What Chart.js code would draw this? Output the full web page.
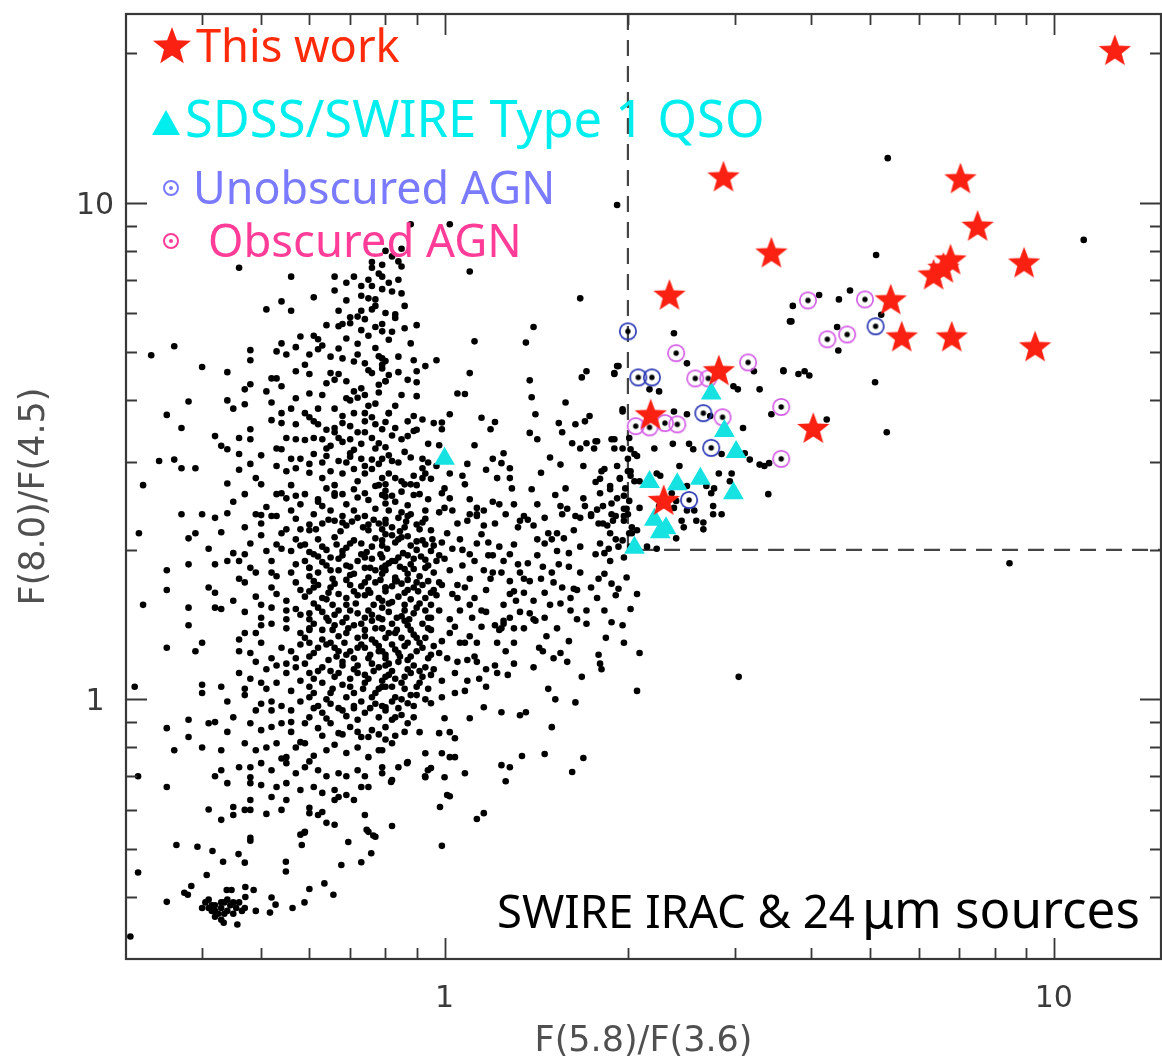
<!DOCTYPE html>
<html lang="en">
<head>
<meta charset="utf-8">
<title>F(8.0)/F(4.5) vs F(5.8)/F(3.6)</title>
<script src="https://cdn.jsdelivr.net/npm/chart.js@4.4.1/dist/chart.umd.min.js"></script>
<style>
  html, body { margin: 0; padding: 0; background: #fff; overflow: hidden; }
  #irac { display: block; }
</style>
</head>
<body>
<canvas id="irac" width="1175" height="1058"></canvas>
<script>
// axis ranges and labelled ticks (log-log)
const xRange = [0.3, 15];
const yRange = [0.3, 24];
const xTickLabels = [1, 10];
const yTickLabels = [1, 10];
const agnCut = 2; // F(5.8)/F(3.6) > 2 and F(8.0)/F(4.5) > 2

// This work
const thisWorkX = [12.6, 2.87, 7.03, 7.50, 3.44, 8.94, 6.77, 6.59, 6.35, 2.34, 5.40, 5.63, 6.80, 9.32, 2.82, 2.18, 4.03, 2.29];
const thisWorkY = [20.3, 11.3, 11.2, 8.99, 7.94, 7.58, 7.69, 7.40, 7.17, 6.53, 6.39, 5.38, 5.38, 5.14, 4.60, 3.75, 3.52, 2.52];

// SDSS/SWIRE type 1 QSOs
const qsoX = [1.00, 2.74, 2.88, 3.01, 2.17, 2.41, 2.63, 2.98, 2.21, 2.31, 2.26, 2.05];
const qsoY = [3.05, 4.13, 3.47, 3.15, 2.74, 2.71, 2.78, 2.60, 2.30, 2.21, 2.17, 2.02];

// unobscured AGN
const unobscuredX = [2.00, 2.08, 2.19, 2.66, 2.74, 2.52, 5.10];
const unobscuredY = [5.51, 4.45, 4.45, 3.77, 3.21, 2.52, 5.64];

// obscured AGN
const obscuredX = [2.40, 3.15, 2.58, 2.71, 3.57, 2.06, 2.17, 2.30, 2.41, 2.86, 3.57, 3.95, 4.90, 4.25, 4.58];
const obscuredY = [4.98, 4.77, 4.43, 4.43, 3.88, 3.55, 3.53, 3.60, 3.58, 3.70, 3.05, 6.36, 6.39, 5.31, 5.43];

// SWIRE IRAC & 24um sources, "F(5.8)/F(3.6),F(8.0)/F(4.5)"
const swireSources = `
0.46,7.4 0.56,7.1 0.66,7.1 0.69,6.9 0.71,7.1 0.73,6.8 0.76,6.8 0.76,7.4 0.78,7.2 0.79,7.1 0.76,7.6
0.61,6.45 0.54,6.33 0.51,6.1 0.56,6.06 0.66,6.66 0.69,6.36 0.75,6.42 0.77,6.39 0.67,6.06 0.70,5.88 0.73,6.06 0.76,6.1 0.74,5.83
0.64,5.67 0.67,5.64 0.68,5.7 0.70,5.72 0.73,5.54 0.77,5.62 0.79,5.51 0.69,5.33 0.58,5.38 0.61,5.4 0.62,5.31 0.54,5.21 0.63,5.16
0.36,5.14 0.33,4.93 0.48,5.05 0.48,4.82 0.53,5.02 0.55,4.95 0.57,5.12 0.60,4.95 0.62,5.07 0.67,5.09 0.68,4.86 0.71,4.79 0.78,4.91 0.79,4.64
0.40,4.67 0.44,4.56 0.52,4.43 0.53,4.43 0.54,4.27 0.57,4.58 0.59,4.72 0.60,4.52 0.60,4.13 0.64,4.33 0.65,4.54 0.67,4.52 0.69,4.37 0.71,4.17 0.73,4.23 0.76,4.54 0.80,4.37
0.48,4.31 0.47,4.21 0.51,4.17 0.38,3.98 0.35,3.74 0.44,4.0 0.47,3.93 0.45,3.85 0.52,3.96 0.54,3.77 0.56,3.85 0.57,4.04 0.59,3.77 0.62,3.85 0.66,3.85 0.69,4.04 0.71,3.77 0.74,3.77 0.77,3.94 0.81,3.77
0.37,3.52 0.42,3.39 0.48,3.5 0.48,3.34 0.46,3.36 0.52,3.65 0.54,3.6 0.57,3.58 0.61,3.63 0.62,3.58 0.64,3.49 0.66,3.52 0.68,3.6 0.74,3.63 0.77,3.58
0.55,3.36 0.57,3.34 0.59,3.33 0.61,3.36 0.63,3.34 0.65,3.24 0.67,3.36 0.70,3.34 0.73,3.27 0.76,3.36 0.78,3.28
0.43,3.24 0.44,3.19 0.46,3.12 0.53,3.2 0.54,3.19 0.56,3.05 0.58,3.05 0.61,3.12 0.64,3.09 0.67,3.02 0.70,3.13 0.73,3.05 0.76,3.04 0.79,3.05
0.34,3.02 0.36,3.04 0.37,2.92 0.39,2.92 0.48,2.98 0.53,2.95 0.55,2.88 0.57,2.92 0.60,2.86 0.63,2.79 0.65,2.88 0.68,2.85 0.71,2.91 0.74,2.85 0.76,2.91 0.79,2.79
0.32,2.7 0.44,2.72 0.49,2.79 0.50,2.71 0.47,2.59 0.53,2.59 0.54,2.6 0.55,2.54 0.57,2.57 0.59,2.59 0.62,2.53 0.64,2.66 0.66,2.57 0.68,2.59 0.71,2.65 0.74,2.6 0.77,2.69 0.80,2.63
0.37,2.36 0.40,2.36 0.42,2.32 0.44,2.37 0.49,2.36 0.51,2.44 0.53,2.34 0.56,2.4 0.58,2.47 0.61,2.36 0.63,2.45 0.65,2.4 0.68,2.34 0.71,2.4 0.74,2.34 0.77,2.42 0.80,2.48
1.92,9.9 0.88,9.05 1.02,9.05 0.85,8.08 0.84,7.62 0.85,7.44 1.10,7.27 0.82,6.63 0.85,6.57 0.83,5.96 0.83,5.86 0.86,5.59 0.90,5.67
1.67,6.42 1.40,5.62 1.36,5.23 1.12,5.26 0.88,5.21 0.79,4.86 0.79,4.72 0.89,4.82 0.97,4.82 0.84,4.56 0.90,4.58 0.93,4.69 1.10,4.54
0.80,4.37 0.90,4.35 1.05,4.13 1.08,4.12 0.90,4.08 1.38,4.39 1.68,4.45 1.71,4.58 1.92,4.69 1.90,4.52 1.39,4.06 1.58,3.96
0.81,3.77 0.87,3.63 0.89,3.72 0.92,3.66 0.96,3.6 0.99,3.61 1.02,3.75 0.83,3.52 0.89,3.47 0.90,3.49 0.99,3.5 1.15,3.69 1.21,3.62 1.19,3.5
1.41,3.75 1.38,3.44 1.54,3.6 1.56,3.45 1.64,3.58 1.70,3.63 1.73,3.72 1.96,3.8
0.85,3.34 0.87,3.39 0.80,3.22 0.88,3.07 0.92,3.05 0.94,3.27 0.98,3.25 1.12,3.25 1.42,3.34 1.62,3.28 1.67,3.2 1.71,3.28 1.77,3.31 1.76,3.2 1.90,3.34 1.90,3.2 1.96,3.2 2.00,3.05 2.05,3.12
0.82,3.02 0.94,3.0 0.97,2.95 0.92,2.92 1.20,3.05 1.25,3.13 1.24,2.99 1.28,2.92 1.49,3.07 1.55,2.97 1.69,2.95 1.09,2.98 1.17,2.9
0.81,2.85 0.83,2.79 0.89,2.82 0.92,2.79 0.95,2.78 1.02,2.85 1.07,2.82 1.22,2.79 1.28,2.79 1.44,2.86 1.83,2.91 1.94,2.79 2.00,2.88 2.05,2.75
0.80,2.71 0.86,2.71 0.88,2.71 1.00,2.66 1.08,2.71 1.29,2.66 1.39,2.65 1.58,2.66 1.77,2.74 1.80,2.78 1.87,2.65 1.98,2.66
0.79,2.58 0.82,2.57 0.89,2.58 0.91,2.59 0.94,2.53 0.99,2.6 1.02,2.54 1.10,2.53 1.13,2.43 1.23,2.47 1.30,2.47 1.42,2.47 1.52,2.58 1.59,2.42 1.69,2.54 1.70,2.45 1.78,2.41 1.88,2.48 1.97,2.57 1.97,2.42
0.81,2.4 0.85,2.38 0.87,2.34 0.93,2.4 0.98,2.38 1.00,2.43 1.10,2.36 1.13,2.36 1.16,2.4 1.35,2.34 1.56,2.36 1.64,2.34 1.74,2.34 1.91,2.34 2.00,2.36
0.315,2.16 0.38,2.11 0.39,2.16 0.43,2.17 0.47,2.22 0.50,2.26 0.52,2.34 0.57,2.31 0.50,2.14 0.54,2.16 0.57,2.1 0.60,2.19 0.63,2.26 0.66,2.29 0.69,2.24 0.72,2.32 0.75,2.19 0.78,2.26 0.80,2.15
0.41,2.01 0.45,1.97 0.47,1.96 0.48,2.06 0.51,1.99 0.54,2.01 0.56,1.99 0.58,2.04 0.61,1.96 0.63,2.03 0.65,1.93 0.68,1.99 0.70,2.06 0.73,1.96 0.76,2.03 0.79,1.93
0.35,1.82 0.38,1.87 0.42,1.87 0.44,1.9 0.46,1.9 0.48,1.84 0.49,1.8 0.52,1.8 0.53,1.77 0.56,1.8 0.57,1.87 0.60,1.84 0.62,1.8 0.64,1.86 0.67,1.82 0.69,1.86 0.71,1.79 0.74,1.84 0.77,1.82 0.80,1.86
0.35,1.66 0.41,1.68 0.47,1.72 0.42,1.64 0.45,1.58 0.49,1.61 0.52,1.68 0.53,1.63 0.55,1.58 0.57,1.72 0.58,1.66 0.61,1.68 0.63,1.6 0.65,1.68 0.67,1.63 0.70,1.7 0.72,1.62 0.75,1.66 0.78,1.6 0.80,1.68
0.32,1.55 0.38,1.53 0.42,1.53 0.43,1.52 0.47,1.5 0.50,1.46 0.52,1.53 0.55,1.51 0.57,1.52 0.60,1.49 0.62,1.53 0.64,1.46 0.67,1.51 0.69,1.55 0.72,1.49 0.75,1.51 0.78,1.46
0.38,1.41 0.47,1.36 0.49,1.36 0.50,1.41 0.52,1.42 0.55,1.39 0.58,1.36 0.60,1.39 0.63,1.38 0.66,1.41 0.69,1.36 0.71,1.41 0.74,1.34 0.77,1.39 0.80,1.33
0.35,1.27 0.39,1.25 0.40,1.3 0.46,1.32 0.46,1.25 0.48,1.24 0.49,1.19 0.52,1.21 0.54,1.27 0.56,1.25 0.57,1.21 0.60,1.3 0.62,1.27 0.65,1.3 0.67,1.25 0.69,1.23 0.72,1.27 0.75,1.21 0.78,1.25 0.80,1.21
0.46,1.13 0.51,1.15 0.53,1.17 0.55,1.13 0.57,1.16 0.60,1.13 0.63,1.16 0.65,1.14 0.68,1.17 0.71,1.15 0.74,1.12 0.78,1.16 0.80,1.11
0.31,1.06 0.40,1.07 0.40,1.03 0.43,1.06 0.47,1.05 0.47,1.02 0.50,1.08 0.51,1.05 0.53,1.08 0.56,1.04 0.58,1.09 0.61,1.03 0.63,1.08 0.65,1.03 0.68,1.07 0.71,1.03 0.74,1.08 0.77,1.03 0.80,1.06
0.44,0.99 0.49,0.95 0.50,0.98 0.52,0.99 0.54,0.97 0.56,0.95 0.58,0.99 0.61,0.96 0.63,0.94 0.65,0.98 0.68,0.95 0.71,0.96 0.74,0.94 0.77,0.98 0.80,0.95
0.35,0.875 0.38,0.91 0.38,0.84 0.41,0.895 0.42,0.9 0.45,0.92 0.44,0.86 0.48,0.895 0.50,0.867 0.52,0.88 0.54,0.895 0.56,0.86 0.59,0.895 0.62,0.875 0.65,0.895 0.67,0.855 0.70,0.88 0.73,0.84 0.76,0.867 0.80,0.83
0.36,0.79 0.40,0.80 0.43,0.79 0.47,0.816 0.49,0.79 0.51,0.80 0.53,0.816 0.55,0.765 0.57,0.80 0.59,0.816 0.61,0.77 0.64,0.79 0.66,0.81 0.69,0.78 0.72,0.80 0.75,0.765 0.78,0.79
0.314,0.70 0.42,0.70 0.43,0.72 0.46,0.73 0.48,0.73 0.50,0.744 0.52,0.72 0.55,0.744 0.57,0.71 0.59,0.73 0.62,0.72 0.64,0.70 0.67,0.71 0.69,0.70 0.72,0.72 0.74,0.70 0.79,0.73
0.35,0.666 0.44,0.678 0.48,0.697 0.48,0.678 0.50,0.672 0.53,0.666 0.55,0.678 0.58,0.657 0.61,0.666 0.63,0.648 0.66,0.657 0.69,0.642 0.73,0.666 0.75,0.666
0.41,0.60 0.43,0.572 0.45,0.607 0.45,0.585 0.47,0.599 0.48,0.599 0.48,0.627 0.51,0.588 0.52,0.636 0.54,0.599 0.55,0.627 0.60,0.605 0.60,0.59 0.62,0.585 0.63,0.593 0.64,0.564 0.66,0.559 0.66,0.627 0.67,0.636 0.71,0.627 0.74,0.585
0.59,0.541 0.58,0.534 0.48,0.526 0.75,0.541 0.77,0.529
0.374,0.408 0.379,0.404 0.35,0.391 0.384,0.421 0.407,0.443 0.314,0.448 0.393,0.505 0.363,0.509 0.416,0.495 0.459,0.488 0.48,0.519 0.433,0.471 0.47,0.469 0.439,0.413 0.447,0.413 0.471,0.419 0.486,0.413 0.471,0.40
0.434,0.355 0.457,0.352 0.49,0.375 0.517,0.372 0.52,0.399 0.528,0.386 0.549,0.471 0.549,0.45 0.563,0.38 0.589,0.39 0.60,0.415 0.635,0.426 0.657,0.404
0.583,0.509 0.589,0.539 0.677,0.464 0.695,0.516 0.73,0.47 0.758,0.49 0.745,0.546 0.764,0.532 0.82,0.556 0.99,0.507 0.983,0.607 1.02,0.638 1.13,0.574 1.16,0.59 1.08,0.71 0.929,0.70 0.868,0.744 0.939,0.72 0.817,0.682 1.04,0.765 0.305,0.333
0.405,0.39 0.41,0.38 0.415,0.375 0.42,0.385 0.425,0.37 0.43,0.38 0.435,0.39 0.44,0.375 0.445,0.385 0.45,0.37 0.455,0.38 0.46,0.39 0.465,0.375 0.41,0.395 0.42,0.365 0.43,0.36 0.44,0.395 0.45,0.39 0.415,0.385 0.435,0.37 0.47,0.38 0.42,0.375 0.43,0.39 0.40,0.38
0.80,2.26 0.84,2.32 0.88,2.36 0.93,2.31 0.95,2.19 1.01,2.16 1.05,2.26 1.09,2.29 1.13,2.34 1.16,2.24 1.21,2.26 1.26,2.36 1.32,2.22 1.33,2.29 1.40,2.24 1.46,2.32 1.48,2.16 1.53,2.16 1.57,2.11 1.63,2.19 1.67,2.32 1.74,2.36 1.79,2.26 1.85,2.24 1.89,2.29 1.97,2.34 2.03,2.16
0.79,2.09 0.82,2.14 0.85,2.12 0.88,2.04 0.92,2.09 0.95,1.99 0.99,2.07 1.03,2.01 1.06,2.1 1.10,1.96 1.13,2.06 1.18,2.07 1.20,1.95 1.23,2.03 1.28,1.96 1.32,1.87 1.37,1.88 1.42,1.95 1.46,2.06 1.53,1.99 1.54,1.87 1.60,1.97 1.67,2.03 1.77,1.96 1.83,1.97 1.87,1.9 1.93,2.03 1.97,1.93
0.79,1.84 0.82,1.9 0.86,1.83 0.89,1.92 0.93,1.84 0.97,1.9 1.02,1.82 1.07,1.86 1.12,1.9 1.16,1.82 1.19,1.75 1.24,1.8 1.28,1.73 1.33,1.8 1.38,1.73 1.44,1.75 1.51,1.72 1.56,1.68 1.63,1.67 1.67,1.8 1.74,1.68 1.79,1.75 1.83,1.79 1.88,1.71 1.93,1.67 1.99,1.76 2.07,1.63
0.80,1.68 0.83,1.73 0.87,1.66 0.90,1.72 0.95,1.64 0.99,1.7 1.03,1.63 1.08,1.68 1.12,1.6 1.17,1.66 1.28,1.63 1.31,1.58 1.35,1.64 1.40,1.58 1.46,1.64 1.49,1.55 1.55,1.56 1.61,1.6 1.65,1.66 1.78,1.6 1.91,1.62 2.02,1.52
0.79,1.53 0.82,1.57 0.86,1.51 0.90,1.53 0.94,1.46 0.98,1.51 1.02,1.45 1.06,1.51 1.11,1.46 1.15,1.51 1.21,1.41 1.25,1.44 1.28,1.46 1.30,1.39 1.35,1.39 1.38,1.49 1.41,1.44 1.46,1.46 1.47,1.34 1.53,1.39 1.61,1.51 1.71,1.51 1.71,1.42 1.83,1.51 1.88,1.43 1.96,1.41
0.79,1.39 0.83,1.36 0.87,1.41 0.90,1.33 0.95,1.38 0.99,1.31 1.02,1.36 1.06,1.3 1.10,1.34 1.13,1.3 1.24,1.39 1.25,1.42 1.23,1.38 1.43,1.27 1.60,1.31 1.79,1.23 1.80,1.18 1.81,1.15 1.84,1.33 1.97,1.3 2.09,1.24
1.55,1.24 1.51,1.21 1.59,1.19 1.40,1.16 1.30,1.18 1.21,1.17 1.17,1.15 1.13,1.19 1.09,1.2 1.05,1.19 1.01,1.21 0.98,1.24 0.94,1.21 0.90,1.25 0.87,1.2 0.84,1.24 0.81,1.18 0.79,1.25
1.22,1.13 1.27,1.12 1.68,1.11 1.48,1.05 1.17,1.06 1.09,1.09 1.04,1.13 0.99,1.09 0.95,1.12 0.91,1.08 0.88,1.13 0.85,1.08 0.81,1.12 0.79,1.06
1.52,1.0 1.64,0.986 2.07,1.04 1.04,1.03 1.08,1.04 0.99,1.01 0.95,0.982 0.90,1.02 0.87,0.982 0.83,1.01 0.80,0.964
1.16,0.964 1.10,0.916 1.24,0.942 1.33,0.929 1.36,0.942 1.50,0.879 1.00,0.916 0.98,0.855 1.02,0.859 1.04,0.835 0.91,0.859 0.87,0.895 0.83,0.92 0.80,0.879
0.82,0.816 0.79,0.79 0.93,0.779 0.99,0.779 1.02,0.765 0.87,0.748 0.84,0.73 0.95,0.727 0.93,0.697 1.00,0.697 1.24,0.737 1.28,0.73 1.26,0.684 1.34,0.769 1.46,0.776 1.69,0.762 1.62,0.714 0.82,0.688 0.79,0.71 1.01,0.642
2.38,5.46 2.50,4.75 3.22,4.58 3.60,4.58 3.71,5.77 1.90,4.54 1.93,4.69 2.17,4.21 2.25,4.17 2.98,4.27 3.03,4.21 3.29,4.21
1.96,3.84 2.38,3.8 2.50,3.75 2.73,3.72 3.44,3.75 3.09,3.52 1.78,3.31 1.88,3.34 2.01,3.36 2.02,3.19 2.07,3.09 2.21,3.2 2.37,3.27 2.52,3.27 2.56,3.19 2.85,3.12 3.11,3.13 3.17,3.04 3.29,2.97 3.41,2.99 3.35,2.95
1.81,2.88 1.92,2.95 1.94,2.78 2.02,2.88 2.02,2.82 2.23,2.85 2.43,2.95 2.82,2.85 2.96,2.85 1.87,2.69 1.80,2.6 1.92,2.54 2.01,2.51 2.09,2.75 2.26,2.82 2.36,2.6 2.50,2.69 2.69,2.69 2.74,2.6 2.77,2.66 2.94,2.75 3.40,2.59
1.82,2.45 1.99,2.42 2.09,2.43 2.25,2.45 2.38,2.43 2.40,2.51 2.50,2.4 2.57,2.4 2.76,2.45 2.85,2.36 1.88,2.36 1.97,2.29 2.03,2.22 1.82,2.26 1.87,2.16 1.91,2.1 2.01,2.16 2.07,2.19 2.45,2.29 2.47,2.22 2.59,2.29 2.66,2.27 2.66,2.2 2.76,2.36
1.80,2.06 1.86,2.01 1.96,2.09 2.02,2.03 2.15,2.03 2.23,2.01 2.40,2.11
5.34,12.3 5.11,7.85 11.2,8.42 3.73,6.2 4.12,6.52 4.44,6.39 4.63,6.66 3.69,5.77 4.41,5.62 4.43,5.04 5.21,5.95 3.60,4.6 3.81,4.52 3.90,4.58 3.97,4.49 5.09,4.35 4.24,3.66 5.32,3.45 8.46,1.88 3.04,1.11
0.645,2.3 0.705,2.28 0.765,2.3 0.82,2.22 0.865,2.28 0.91,2.2 0.615,2.2 0.675,2.18 0.735,2.22 0.79,2.2 0.845,2.18 0.9,2.25
0.62,2.1 0.66,2.12 0.71,2.09 0.77,2.11 0.83,2.07 0.87,2.13 0.93,2.05 0.6,1.98 0.64,2.0 0.69,2.02 0.745,1.98 0.805,2.01 0.855,1.97 0.9,2.0 0.96,2.04
0.59,1.9 0.63,1.89 0.67,1.92 0.72,1.9 0.76,1.92 0.81,1.88 0.84,1.93 0.88,1.87 0.93,1.91 0.6,1.77 0.655,1.75 0.7,1.78 0.75,1.76 0.79,1.79 0.83,1.76 0.87,1.79 0.91,1.77 0.96,1.8
0.62,1.7 0.66,1.71 0.73,1.69 0.77,1.72 0.82,1.69 0.85,1.71 0.89,1.68 0.92,1.7 0.59,1.61 0.64,1.59 0.69,1.6 0.74,1.62 0.79,1.58 0.84,1.61 0.88,1.59 0.93,1.6 0.97,1.62
0.58,1.48 0.63,1.5 0.66,1.48 0.7,1.51 0.76,1.48 0.81,1.5 0.85,1.47 0.89,1.49 0.93,1.51 0.61,1.42 0.645,1.44 0.68,1.43 0.73,1.42 0.76,1.44 0.82,1.42 0.86,1.44 0.92,1.42
0.59,1.33 0.63,1.32 0.67,1.34 0.72,1.33 0.76,1.32 0.81,1.36 0.85,1.33 0.89,1.35 0.93,1.33 0.61,1.24 0.66,1.27 0.7,1.25 0.74,1.27 0.78,1.28 0.83,1.26 0.86,1.28 0.92,1.27
0.59,1.18 0.645,1.2 0.68,1.19 0.72,1.17 0.76,1.18 0.8,1.17 0.84,1.19 0.89,1.17 0.93,1.16 0.61,1.1 0.66,1.11 0.7,1.1 0.75,1.1 0.79,1.09 0.83,1.1 0.86,1.11 0.92,1.11
0.6,1.01 0.64,1.0 0.69,1.01 0.73,0.99 0.76,1.01 0.82,0.99 0.85,1.0 0.88,1.02 0.93,1.0 0.6,0.92 0.64,0.915 0.69,0.925 0.72,0.91 0.78,0.92 0.82,0.91 0.85,0.93 0.89,0.92
0.63,0.845 0.68,0.85 0.72,0.86 0.75,0.84 0.78,0.85 0.83,0.845 0.86,0.86
0.62,2.5 0.69,2.47 0.75,2.52 0.83,2.5 0.87,2.46 0.66,2.7 0.72,2.75 0.78,2.7 0.85,2.75 0.6,2.98 0.69,3.0 0.74,2.95 0.81,3.1 0.64,3.2 0.71,3.18 0.77,3.2
0.66,3.45 0.72,3.45 0.79,3.5 0.6,3.7 0.68,3.72 0.75,3.9 0.63,4.1 0.72,4.05 0.78,4.15 0.66,4.4 0.74,4.75 0.65,4.9 0.72,5.2
1.05,1.7 1.1,1.55 1.15,1.4 1.2,1.8 1.25,1.55 1.3,2.05 1.35,1.75 1.4,1.45 1.45,1.85 1.5,2.1 1.0,1.92 1.04,1.4 1.12,1.22 1.18,1.95 1.26,1.25 1.33,1.5
0.6,2.25 0.68,2.27 0.75,2.25 0.8,2.3 0.86,2.22 0.92,2.27 0.59,2.05 0.665,2.05 0.73,2.06 0.79,2.04 0.84,2.1 0.9,2.08 0.955,2.1
0.62,1.94 0.68,1.95 0.74,1.93 0.785,1.96 0.83,1.9 0.87,1.95 0.915,1.94 0.98,1.95 0.6,1.84 0.65,1.82 0.7,1.85 0.755,1.84 0.8,1.82 0.845,1.85 0.89,1.83 0.94,1.86
0.61,1.73 0.69,1.74 0.74,1.72 0.785,1.74 0.835,1.73 0.87,1.74 0.94,1.73 0.98,1.72 0.6,1.65 0.645,1.64 0.71,1.65 0.755,1.64 0.8,1.65 0.86,1.64 0.905,1.65 0.96,1.66
0.61,1.56 0.655,1.55 0.715,1.56 0.765,1.55 0.81,1.56 0.86,1.55 0.91,1.56 0.95,1.55 0.6,1.45 0.69,1.46 0.74,1.46 0.79,1.45 0.835,1.46 0.875,1.45 0.95,1.46
0.6,1.38 0.655,1.38 0.695,1.39 0.74,1.38 0.79,1.39 0.835,1.38 0.88,1.38 0.94,1.39 0.58,1.29 0.64,1.29 0.685,1.3 0.73,1.29 0.77,1.3 0.82,1.29 0.87,1.3 0.91,1.3 0.96,1.28
0.6,1.22 0.665,1.22 0.71,1.21 0.755,1.23 0.8,1.23 0.845,1.22 0.88,1.22 0.95,1.23 0.62,1.14 0.67,1.13 0.72,1.13 0.765,1.14 0.82,1.14 0.87,1.15 0.91,1.14 0.96,1.15
0.6,1.06 0.655,1.05 0.7,1.06 0.735,1.05 0.78,1.05 0.82,1.06 0.86,1.05 0.9,1.06 0.94,1.05 0.62,0.97 0.67,0.96 0.71,0.97 0.755,0.96 0.79,0.97 0.84,0.96 0.89,0.97
0.7,4.0 0.74,4.1 0.78,4.3 0.81,4.5 0.75,4.6 0.8,4.8 0.72,4.95 0.77,5.1 0.81,5.3 0.75,5.4 0.79,5.7 0.72,5.9 0.8,6.0 0.77,6.2 0.73,6.5
0.79,6.7 0.81,6.9 0.75,7.0 0.79,7.5 0.82,7.8 0.8,8.0 0.84,7.0 0.86,6.2 0.82,5.5 0.84,4.9 0.87,4.4 0.85,4.1 0.83,3.9 0.7,3.55 0.76,3.7
0.8,3.62 0.68,3.3 0.74,3.45 0.82,3.4 0.63,3.0 0.7,3.08 0.78,2.98 0.84,3.0 0.86,3.15 0.66,2.6 0.72,2.55 0.8,2.56 0.85,2.62 0.9,2.7 0.93,2.85
0.45,2.5 0.5,2.35 0.55,2.2 0.52,1.9 0.46,1.75 0.5,1.55 0.55,1.45 0.5,1.3 0.55,1.18 0.48,1.1 0.52,0.95 0.56,0.9 0.58,0.82 0.54,0.76 0.6,0.75
0.46,2.9 0.5,3.1 0.56,2.7 0.58,2.2 0.53,2.05
1.03,2.4 1.07,2.0 1.15,2.15 1.2,2.5 1.25,1.9 1.3,1.65 1.37,2.3 1.42,2.1 1.5,1.8 1.55,2.45 1.6,1.85 1.65,1.45 1.05,1.6 1.1,1.75 1.17,1.5
1.22,1.3 1.08,1.3 1.14,1.1 1.3,1.3 1.45,1.25
`;

function toPoints(xs, ys) {
  return xs.map((v, i) => ({ x: v, y: ys[i] }));
}

function parsePairs(text) {
  return text.trim().split(/\s+/).map(pair => {
    const [a, b] = pair.split(',').map(Number);
    return { x: a, y: b };
  });
}

function traceStar(ctx, cx, cy, R) {
  const r = R * 0.42;
  ctx.beginPath();
  for (let i = 0; i < 10; i++) {
    const ang = -Math.PI / 2 + i * Math.PI / 5;
    const rr = i % 2 ? r : R;
    ctx.lineTo(cx + rr * Math.cos(ang), cy + rr * Math.sin(ang));
  }
  ctx.closePath();
}

function starMarker(R, color) {
  const c = document.createElement('canvas');
  c.width = c.height = Math.ceil(R * 2 + 4);
  const g = c.getContext('2d');
  g.fillStyle = color;
  traceStar(g, c.width / 2, c.height / 2 + R * 0.08, R);
  g.fill();
  return c;
}

// open circle with the source dot in its centre
function ringMarker(color) {
  const c = document.createElement('canvas');
  c.width = c.height = 24;
  const g = c.getContext('2d');
  g.strokeStyle = color;
  g.lineWidth = 1.7;
  g.beginPath();
  g.arc(12, 12, 8.2, 0, Math.PI * 2);
  g.stroke();
  g.fillStyle = '#000';
  g.beginPath();
  g.arc(12, 12, 2.7, 0, Math.PI * 2);
  g.fill();
  return c;
}

function logTicks(range) {
  const out = [];
  for (let d = 0.1; d <= 10; d *= 10) {
    for (let m = 1; m <= 9; m++) {
      const v = +(m * d).toPrecision(3);
      if (v > range[0] && v < range[1]) out.push({ v, major: m === 1 });
    }
  }
  return out;
}

function fitFont(ctx, text, family, width) {
  ctx.font = '100px ' + family;
  return 100 * width / ctx.measureText(text).width;
}

const STAR_RED = 'rgb(250, 32, 18)';
const QSO_CYAN = '#16e2e2';

const axesFrame = {
  id: 'axesFrame',
  afterDatasetsDraw(chart) {
    const { ctx, chartArea: a, scales: { x, y } } = chart;
    ctx.save();
    ctx.strokeStyle = '#383838';
    ctx.lineWidth = 2.2;
    ctx.strokeRect(a.left, a.top, a.right - a.left, a.bottom - a.top);

    // inward ticks on all four sides
    ctx.lineWidth = 1.8;
    ctx.beginPath();
    logTicks(xRange).forEach(t => {
      const px = Math.round(x.getPixelForValue(t.v)) + 0.5;
      const len = t.major ? 21 : 11;
      ctx.moveTo(px, a.bottom); ctx.lineTo(px, a.bottom - len);
      ctx.moveTo(px, a.top); ctx.lineTo(px, a.top + len);
    });
    logTicks(yRange).forEach(t => {
      const py = Math.round(y.getPixelForValue(t.v)) + 0.5;
      const len = t.major ? 21 : 11;
      ctx.moveTo(a.left, py); ctx.lineTo(a.left + len, py);
      ctx.moveTo(a.right, py); ctx.lineTo(a.right - len, py);
    });
    ctx.stroke();
    ctx.restore();
  },
  afterDraw(chart) {
    const { ctx, chartArea: a, scales: { x, y } } = chart;
    ctx.save();

    // tick labels and axis titles
    ctx.fillStyle = '#3a3a3a';
    ctx.font = '30px "DejaVu Sans"';
    ctx.textAlign = 'center';
    ctx.textBaseline = 'alphabetic';
    xTickLabels.forEach(v => ctx.fillText(String(v), x.getPixelForValue(v), a.bottom + 48));
    yTickLabels.forEach(v => ctx.fillText(String(v), 95, y.getPixelForValue(v) + 11));

    ctx.fillStyle = '#505050';
    ctx.font = '35px "DejaVu Sans"';
    ctx.fillText('F(5.8)/F(3.6)', (a.left + a.right) / 2, a.bottom + 92);
    ctx.save();
    ctx.translate(44, (a.top + a.bottom) / 2 + 10);
    ctx.rotate(-Math.PI / 2);
    ctx.fillText('F(8.0)/F(4.5)', 0, 0);
    ctx.restore();

    // key in the upper left corner
    const fam = '"Noto Sans"';
    ctx.textAlign = 'left';
    ctx.fillStyle = STAR_RED;
    traceStar(ctx, 172, 47, 20);
    ctx.fill();
    ctx.fillStyle = '#ff2a0a';
    ctx.font = fitFont(ctx, 'This work', fam, 204).toFixed(1) + 'px ' + fam;
    ctx.fillText('This work', 196, 62);

    ctx.fillStyle = '#00eeee';
    ctx.beginPath();
    ctx.moveTo(152, 135); ctx.lineTo(180, 135); ctx.lineTo(166, 110);
    ctx.closePath();
    ctx.fill();
    ctx.font = fitFont(ctx, 'SDSS/SWIRE Type 1 QSO', fam, 580).toFixed(1) + 'px ' + fam;
    ctx.fillText('SDSS/SWIRE Type 1 QSO', 185, 137);

    [['Unobscured AGN', '#7a7aff', 188, 193, 362], ['Obscured AGN', '#ff3c98', 241, 208, 314]].forEach(([label, col, cy, tx, w]) => {
      ctx.strokeStyle = col;
      ctx.fillStyle = col;
      ctx.lineWidth = 2;
      ctx.beginPath();
      ctx.arc(171, cy, 7, 0, Math.PI * 2);
      ctx.stroke();
      ctx.beginPath();
      ctx.arc(171, cy, 2, 0, Math.PI * 2);
      ctx.fill();
      ctx.font = fitFont(ctx, label, fam, w).toFixed(1) + 'px ' + fam;
      ctx.fillText(label, tx, cy + 16);
    });

    // sample description, lower right
    ctx.fillStyle = '#000';
    ctx.font = fitFont(ctx, 'SWIRE IRAC & 24', fam, 358).toFixed(1) + 'px ' + fam;
    ctx.fillText('SWIRE IRAC & 24', 497, 928);
    ctx.font = fitFont(ctx, 'μm sources', fam, 278).toFixed(1) + 'px ' + fam;
    ctx.fillText('μm sources', 862, 928);
    ctx.restore();
  }
};

const chart = new Chart('irac', {
  type: 'scatter',
  data: {
    datasets: [
      {
        label: 'This work',
        data: toPoints(thisWorkX, thisWorkY),
        pointStyle: starMarker(17, STAR_RED),
        pointRadius: 13,
      },
      {
        label: 'SDSS/SWIRE Type 1 QSO',
        data: toPoints(qsoX, qsoY),
        pointStyle: 'triangle',
        pointRadius: 12,
        backgroundColor: QSO_CYAN,
        borderWidth: 0,
      },
      {
        label: 'Unobscured AGN',
        data: toPoints(unobscuredX, unobscuredY),
        pointStyle: ringMarker('#2b38b4'),
        pointRadius: 9,
      },
      {
        label: 'Obscured AGN',
        data: toPoints(obscuredX, obscuredY),
        pointStyle: ringMarker('#d35ee6'),
        pointRadius: 9,
      },
      {
        label: 'SWIRE IRAC & 24um',
        data: parsePairs(swireSources),
        pointStyle: 'circle',
        pointRadius: 3.3,
        backgroundColor: '#000',
        borderWidth: 0,
      },
      {
        label: 'AGN selection',
        data: [{ x: agnCut, y: yRange[1] }, { x: agnCut, y: agnCut }, { x: xRange[1], y: agnCut }],
        showLine: true,
        pointRadius: 0,
        borderColor: '#444',
        borderWidth: 2.2,
        borderDash: [16, 10],
        fill: false,
      },
    ],
  },
  options: {
    responsive: false,
    animation: false,
    devicePixelRatio: 1,
    layout: { padding: { left: 126, top: 13, right: 8, bottom: 99 } },
    plugins: { legend: { display: false }, tooltip: { enabled: false } },
    events: [],
    scales: {
      x: { type: 'logarithmic', min: xRange[0], max: xRange[1], display: false },
      y: { type: 'logarithmic', min: yRange[0], max: yRange[1], display: false },
    },
  },
  plugins: [axesFrame],
});
</script>
</body>
</html>
